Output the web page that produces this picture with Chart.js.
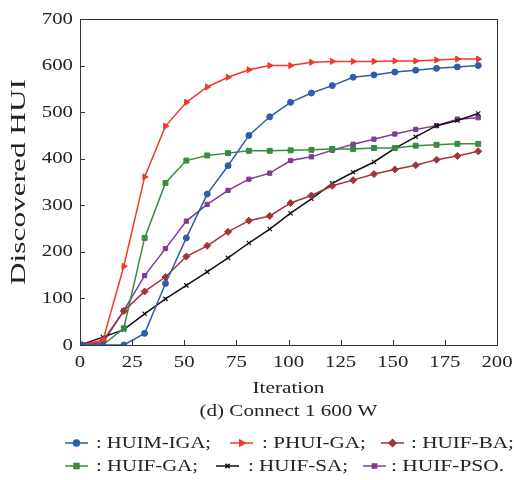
<!DOCTYPE html>
<html>
<head>
<meta charset="utf-8">
<script src="https://cdn.jsdelivr.net/npm/chart.js@4.4.0/dist/chart.umd.min.js"></script>
<style>
  html, body { margin: 0; padding: 0; background: #fff; }
  #wrap { width: 514px; height: 480px; }
  .probe { font-family: "Liberation Serif"; position: absolute; left: -999px; top: 0; }
</style>
</head>
<body>
<span class="probe">Discovered HUI 0123456789</span>
<div id="wrap"><canvas id="hui"></canvas></div>
<script>
// iterations where each algorithm was sampled
var iterations = [1, 11, 21, 31, 41, 51, 61, 71, 81, 91, 101, 111, 121, 131, 141, 151, 161, 171, 181, 191];

var huimIga = [0, 0, 0, 25, 132, 230, 324, 385, 450, 490, 521, 541, 557, 575, 580, 586, 590, 594, 597, 600];
var phuiGa  = [0, 10, 169, 361, 470, 521, 554, 575, 591, 600, 600, 607, 609, 609, 609, 610, 610, 612, 614, 614];
var huifBa  = [0, 9, 73, 115, 146, 190, 213, 243, 267, 277, 305, 321, 342, 354, 367, 377, 386, 398, 406, 416];
var huifGa  = [0, 0, 36, 230, 348, 396, 407, 412, 417, 417, 418, 419, 421, 421, 423, 423, 428, 430, 432, 432];
var huifSa  = [1, 17, 33, 67, 99, 128, 157, 187, 219, 249, 283, 314, 347, 371, 393, 422, 447, 471, 482, 497];
var huifPso = [0, 5, 74, 149, 207, 266, 302, 332, 356, 369, 396, 404, 418, 431, 442, 453, 463, 471, 485, 488];

var xTicks = [0, 25, 50, 75, 100, 125, 150, 175, 200];
var yTicks = [0, 100, 200, 300, 400, 500, 600, 700];

var SERIF = '"Liberation Serif", "Times New Roman", serif';

function pts(ys) {
  return ys.map(function (y, i) { return { x: iterations[i], y: y }; });
}

function series(label, ys, color, style, r, rot) {
  return {
    label: label,
    data: pts(ys),
    borderColor: color,
    backgroundColor: color,
    borderWidth: 1.5,
    pointStyle: style,
    pointRadius: r,
    pointRotation: rot || 0,
    pointBorderWidth: style === 'crossRot' ? 1.2 : 1,
    pointBackgroundColor: color,
    pointBorderColor: color,
    tension: 0
  };
}

// text in the figure is drawn a bit wide: fit it to the width it has there
function wideText(ctx, txt, x, y, size, align, width) {
  ctx.save();
  ctx.font = size + 'px ' + SERIF;
  ctx.textBaseline = 'middle';
  ctx.fillStyle = '#222';
  var sx = width / ctx.measureText(txt).width;
  var left = align === 'right' ? x - width : (align === 'center' ? x - width / 2 : x);
  ctx.translate(left, y);
  ctx.scale(sx, 1);
  ctx.textAlign = 'left';
  ctx.fillText(txt, 0, 0);
  ctx.restore();
}

var legendRows = [
  [{ i: 0, sx: 65, tx: 96, w: 115 }, { i: 1, sx: 230, tx: 262, w: 104 }, { i: 2, sx: 381, tx: 411, w: 103 }],
  [{ i: 3, sx: 65, tx: 96, w: 102 }, { i: 4, sx: 216, tx: 248, w: 100 }, { i: 5, sx: 363, tx: 391, w: 113 }]
];

var decor = {
  id: 'decor',
  afterDraw: function (chart) {
    var ctx = chart.ctx, a = chart.chartArea;
    var xs = chart.scales.x, ys = chart.scales.y;

    // frame
    ctx.save();
    ctx.strokeStyle = '#333';
    ctx.lineWidth = 1;
    ctx.strokeRect(Math.round(a.left) + 0.5, Math.round(a.top) + 0.5, Math.round(a.right - a.left), Math.round(a.bottom - a.top));

    // inward ticks
    ctx.beginPath();
    xTicks.forEach(function (v) {
      var px = Math.round(xs.getPixelForValue(v)) + 0.5;
      ctx.moveTo(px, a.bottom); ctx.lineTo(px, a.bottom - 5);
    });
    yTicks.forEach(function (v) {
      var py = Math.round(ys.getPixelForValue(v)) + 0.5;
      ctx.moveTo(a.left, py); ctx.lineTo(a.left + 5, py);
    });
    ctx.stroke();
    ctx.restore();

    // tick labels (digit width ~10.4px)
    xTicks.forEach(function (v) {
      wideText(ctx, String(v), xs.getPixelForValue(v), a.bottom + 17, 17.5, 'center', String(v).length * 10.4);
    });
    yTicks.forEach(function (v) {
      wideText(ctx, String(v), a.left - 7, ys.getPixelForValue(v), 17.5, 'right', String(v).length * 10.4);
    });

    var cx = (a.left + a.right) / 2;
    wideText(ctx, 'Iteration', cx, 388, 17.5, 'center', 72);
    wideText(ctx, '(d) Connect 1 600 W', cx, 411, 17.5, 'center', 178);

    // y title, rotated
    ctx.save();
    ctx.translate(19, (a.top + a.bottom) / 2);
    ctx.rotate(-Math.PI / 2);
    wideText(ctx, 'Discovered HUI', 0, 0, 21, 'center', 206);
    ctx.restore();

    // legend
    var sets = chart.data.datasets;
    legendRows.forEach(function (row, r) {
      var y = 443 + r * 23;
      row.forEach(function (e) {
        var ds = sets[e.i];
        ctx.save();
        ctx.strokeStyle = ds.borderColor;
        ctx.lineWidth = 1.5;
        ctx.beginPath();
        ctx.moveTo(e.sx, y); ctx.lineTo(e.sx + 23, y);
        ctx.stroke();
        ctx.fillStyle = ds.borderColor;
        Chart.helpers.drawPoint(ctx, {
          pointStyle: ds.pointStyle, rotation: ds.pointRotation,
          radius: ds.pointRadius, borderWidth: 1
        }, e.sx + 11.5, y);
        ctx.restore();
        wideText(ctx, ': ' + ds.label + (e.i === 5 ? '.' : ';'), e.tx, y, 17.5, 'left', e.w);
      });
    });
  }
};

function draw() {
  new Chart(document.getElementById('hui'), {
    type: 'line',
    data: {
      datasets: [
        series('HUIM-IGA', huimIga, '#2f5daa', 'circle', 3),
        series('PHUI-GA', phuiGa, '#ec3b2c', 'triangle', 3.5, 90),
        series('HUIF-BA', huifBa, '#a3333a', 'rectRot', 3.5),
        series('HUIF-GA', huifGa, '#3a8b3e', 'rect', 3.5),
        series('HUIF-SA', huifSa, '#111111', 'crossRot', 3),
        series('HUIF-PSO', huifPso, '#813b98', 'rect', 3)
      ]
    },
    options: {
      responsive: true,
      maintainAspectRatio: false,
      animation: false,
      layout: { padding: { top: 19, right: 17, left: 0, bottom: 0 } },
      plugins: {
        legend: { display: false },
        tooltip: { enabled: false }
      },
      scales: {
        x: {
          type: 'linear',
          min: 0, max: 200,
          grid: { display: false, drawTicks: false },
          border: { display: false },
          ticks: { display: false, stepSize: 25 },
          afterFit: function (s) { s.height = 480 - 345; }
        },
        y: {
          min: 0, max: 700,
          grid: { display: false, drawTicks: false },
          border: { display: false },
          ticks: { display: false, stepSize: 100 },
          afterFit: function (s) { s.width = 80; }
        }
      }
    },
    plugins: [decor]
  });
}

if (document.fonts && document.fonts.load) {
  document.fonts.load('17px "Liberation Serif"').then(draw, draw);
} else {
  draw();
}
</script>
</body>
</html>
